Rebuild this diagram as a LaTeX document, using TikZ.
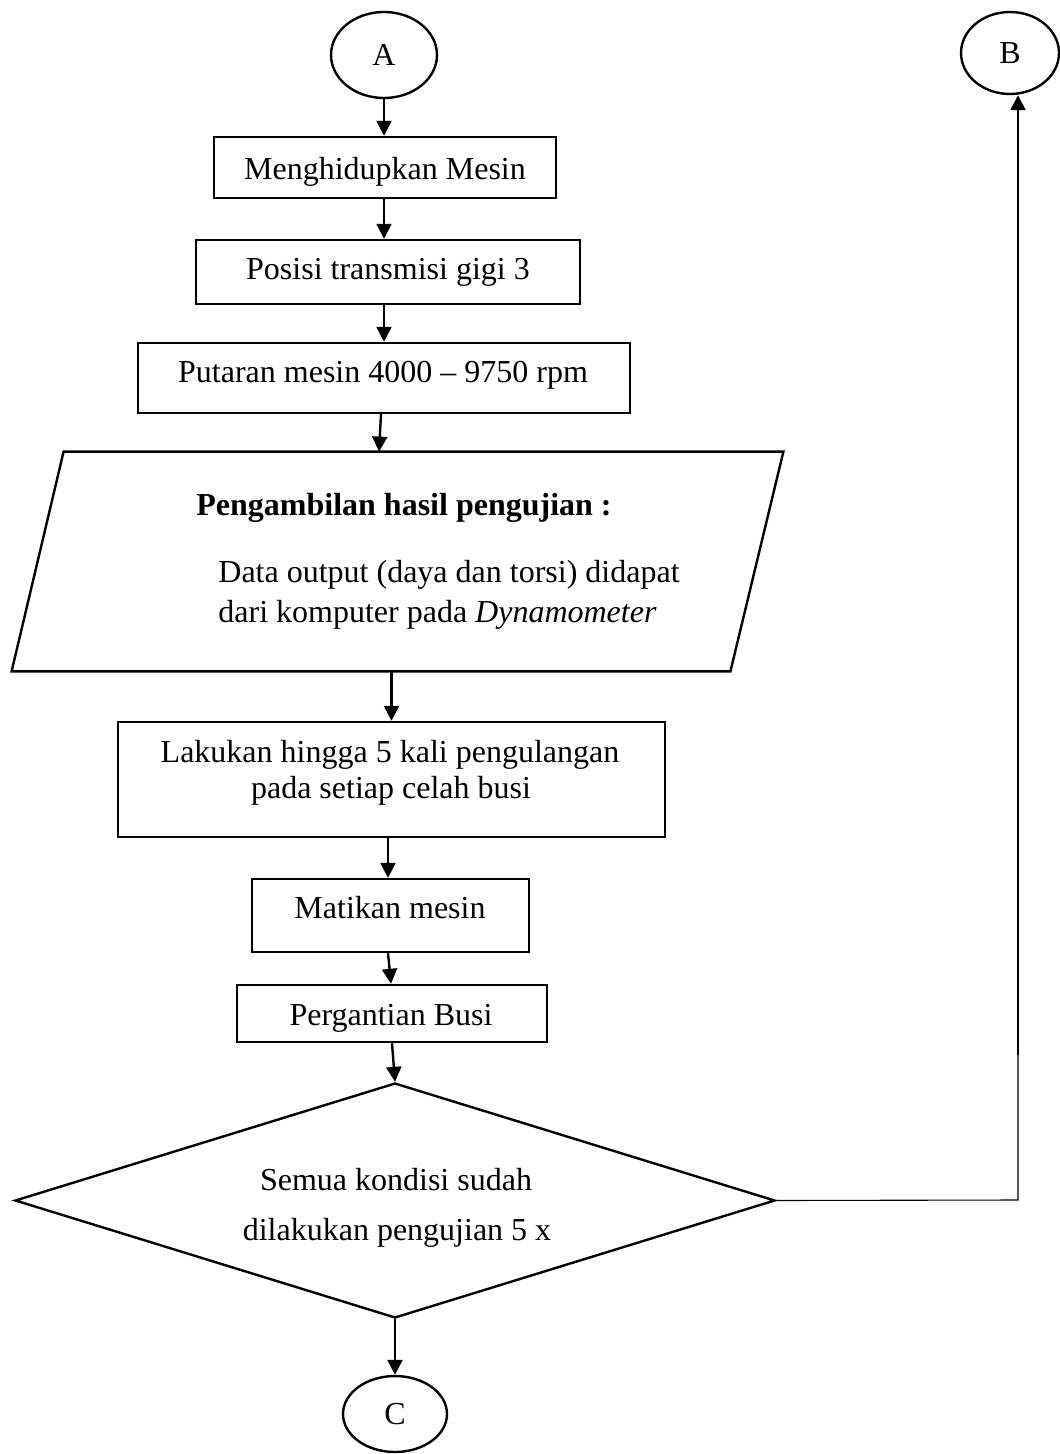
\documentclass[tikz,border=0pt]{standalone}
\usepackage{fontspec}
\setmainfont{Liberation Serif}
\usetikzlibrary{arrows.meta,shapes.geometric}
\begin{document}
\begin{tikzpicture}[x=0.5pt,y=-0.5pt,
  every node/.style={font=\fontsize{16pt}{18pt}\selectfont},
  box/.style={draw, rectangle, line width=1.2pt, inner sep=0pt},
  term/.style={draw, ellipse, line width=1.2pt, inner sep=0pt},
  txt/.style={inner sep=0pt, anchor=base},
  arr/.style={line width=1.2pt, -{Triangle[length=7.5pt,width=7.5pt]}},
  link/.style={line width=0.55pt}]
\useasboundingbox (0,0) rectangle (1059,1454);

% terminators
\node[term, minimum width=53pt, minimum height=43pt] (A) at (384,55) {A};
\node[term, minimum width=49pt, minimum height=41pt] (B) at (1010,53) {B};
\node[term, minimum width=52pt, minimum height=38pt] (C) at (395,1414) {C};

% process boxes
\node[box, minimum width=171pt, minimum height=30.5pt] (b1) at (385,167.5) {};
\node[box, minimum width=192pt, minimum height=32pt] (b2) at (388,272) {};
\node[box, minimum width=246pt, minimum height=35pt] (b3) at (384,378) {};
\node[box, minimum width=273.5pt, minimum height=57.5pt] (b5) at (391.5,779.5) {};
\node[box, minimum width=138.5pt, minimum height=36.5pt] (b6) at (390.5,915.5) {};
\node[box, minimum width=155pt, minimum height=28.5pt] (b7) at (392,1013.5) {};

% input/output block: frame node P, parallelogram drawn on its corners
\node[inner sep=0pt, minimum width=385.5pt, minimum height=109.5pt] (P) at (397.5,561.5) {};
\draw[line width=1.2pt, line join=miter]
  ([xshift=26pt]P.north west) -- (P.north east)
  -- ([xshift=-26.5pt]P.south east) -- (P.south west) -- cycle;

% decision
\node[draw, diamond, line width=1.2pt, inner sep=0pt,
      minimum width=380pt, minimum height=117.5pt] (D) at (395,1200.5) {};

% texts
\node[txt] (t1) at (385,180) {Menghidupkan Mesin};
\node[txt] (t2) at (388,280) {Posisi transmisi gigi 3};
\node[txt] (t3) at (383,383) {Putaran mesin 4000 -- 9750 rpm};
\node[txt, anchor=base west, font=\fontsize{16pt}{18pt}\selectfont\bfseries] (p1) at (196,515) {Pengambilan hasil pengujian :};
\node[txt, anchor=base west] (p2) at (218,582) {Data output (daya dan torsi) didapat};
\node[txt, anchor=base west] (p3) at (218,622) {dari komputer pada \textit{Dynamometer}};
\node[txt] (t5a) at (390,762) {Lakukan hingga 5 kali pengulangan};
\node[txt] (t5b) at (391,798) {pada setiap celah busi};
\node[txt] (t6) at (390,918) {Matikan mesin};
\node[txt] (t7) at (391,1025) {Pergantian Busi};
\node[txt] (d1) at (396,1190) {Semua kondisi sudah};
\node[txt] (d2) at (397,1240) {dilakukan pengujian 5 x};

% flow
\draw[arr] (A) -- (A |- b1.north);
\draw[arr] ([xshift=-0.5pt]b1.south) -- ([xshift=-0.5pt]b1.south |- b2.north);
\draw[arr] ([xshift=-2pt]b2.south) -- ([xshift=-2pt]b2.south |- b3.north);
\draw[arr] ([xshift=-1.5pt]b3.south) -- ([xshift=-2.5pt]b3.south |- P.north);
\draw[arr] (b5.north |- P.south) -- (b5.north);
\draw[arr] ([xshift=-1.75pt]b5.south) -- ([xshift=-1.75pt]b5.south |- b6.north);
\draw[arr] ([xshift=-1.25pt]b6.south) -- ([xshift=-0.5pt]b7.north);
\draw[arr] (b7.south) -- (D.north);
\draw[arr] (D.south) -- (C.north);

% return path to B
\coordinate (bend) at (1018,1200);
\coordinate (rise) at (1018,1055);
\draw[link] (D.east) -- (bend) -- (rise);
\draw[arr] (rise) -- (rise |- B.south);
\end{tikzpicture}
\end{document}
